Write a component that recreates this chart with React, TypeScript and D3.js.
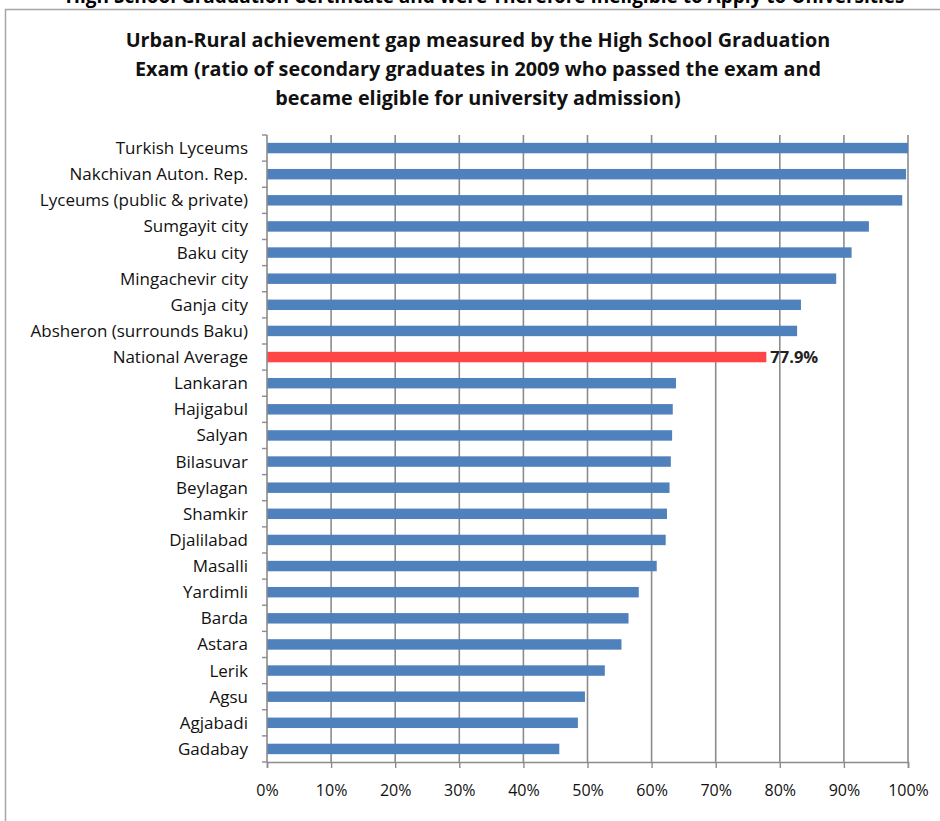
import { useEffect, useRef } from "react";
import * as d3 from "d3";

const regions: string[] = [
    'Turkish Lyceums', 'Nakchivan Auton. Rep.', 'Lyceums (public & private)', 'Sumgayit city',
    'Baku city', 'Mingachevir city', 'Ganja city', 'Absheron (surrounds Baku)', 'National Average',
    'Lankaran', 'Hajigabul', 'Salyan', 'Bilasuvar', 'Beylagan', 'Shamkir', 'Djalilabad',
    'Masalli', 'Yardimli', 'Barda', 'Astara', 'Lerik', 'Agsu', 'Agjabadi', 'Gadabay',
]

// share of graduates who passed (%)
const passRates: number[] = [
    100, 99.7, 99.1, 93.9, 91.2, 88.8, 83.3, 82.7, 77.9,
    63.8, 63.3, 63.2, 63.0, 62.8, 62.4, 62.2,
    60.8, 58.0, 56.4, 55.3, 52.7, 49.6, 48.5, 45.6,
]

const xTicks: number[] = [0, 10, 20, 30, 40, 50, 60, 70, 80, 90, 100]

const highlight = 'National Average'

const titleLines: string[] = [
    'Urban-Rural achievement gap measured by the High School Graduation',
    'Exam (ratio of secondary graduates in 2009 who passed the exam and',
    'became eligible for university admission)',
]
const cutHeading = 'High School Graduation Certificate and were Therefore Ineligible to Apply to Universities'

const FONT = '"Open Sans", Lato, sans-serif'

export default function App() {
    const width = 940;
    const height = 821;

    const margin = {
        top: 135,
        right: 32,
        bottom: 59,
        left: 267,
    }

    const svgRef = useRef<SVGSVGElement | null>(null);

    useEffect(() => {
        const svg = d3.select(svgRef.current)
            .attr('viewBox', [0, 0, width, height])
        svg.selectAll('*').remove()

        const xScale = d3.scaleLinear()
            .domain([0, 100])
            .range([margin.left, width - margin.right])
        const yScale = d3.scaleBand<string>()
            .domain(regions)
            .range([margin.top, height - margin.bottom])
            .paddingInner(0.6)
            .paddingOuter(0.3)

        const step = yScale.step()
        const yBottom = height - margin.bottom

        // frame
        svg.append('rect')
            .attr('x', 5.5)
            .attr('y', 9.5)
            .attr('width', 960)
            .attr('height', 900)
            .attr('fill', 'white')
            .attr('stroke', '#a6a6a6')
            .attr('stroke-width', 1.5)

        // heading of the page, cut off at the top
        svg.append('text')
            .attr('x', 485)
            .attr('y', 3)
            .attr('text-anchor', 'middle')
            .style('font-family', FONT)
            .style('font-weight', 'bold')
            .style('font-size', '19px')
            .text(cutHeading)

        titleLines.forEach((line, i) => {
            svg.append('text')
                .attr('x', 478)
                .attr('y', 47 + i * 29)
                .attr('text-anchor', 'middle')
                .style('font-family', FONT)
                .style('font-weight', 'bold')
                .style('font-size', '19.8px')
                .style('fill', '#111')
                .text(line)
        })

        // vertical gridlines
        svg.append('g')
            .selectAll('line')
            .data(xTicks.slice(1))
            .join('line')
            .attr('x1', d => xScale(d))
            .attr('x2', d => xScale(d))
            .attr('y1', margin.top)
            .attr('y2', yBottom)
            .attr('stroke', '#8c8c8c')
            .attr('stroke-width', 1.6)

        // bars
        svg.append('g')
            .selectAll('rect')
            .data(regions)
            .join('rect')
            .attr('x', xScale(0))
            .attr('y', d => yScale(d) as number)
            .attr('width', (d, i) => xScale(passRates[i]) - xScale(0))
            .attr('height', yScale.bandwidth())
            .attr('fill', d => d === highlight ? '#ff4646' : '#4f81bd')

        // label of highlighted bar
        const hi = regions.indexOf(highlight)
        svg.append('text')
            .attr('x', xScale(passRates[hi]) + 4)
            .attr('y', (yScale(highlight) as number) + yScale.bandwidth() / 2)
            .attr('dy', '0.36em')
            .style('font-family', FONT)
            .style('font-weight', 'bold')
            .style('font-size', '16.5px')
            .style('fill', '#222')
            .text(`${passRates[hi]}%`)

        // y axis (category ticks on boundaries)
        const yAxis = svg.append('g')
        yAxis.append('line')
            .attr('x1', xScale(0)).attr('x2', xScale(0))
            .attr('y1', margin.top).attr('y2', yBottom)
            .attr('stroke', '#8c8c8c').attr('stroke-width', 1.6)
        yAxis.selectAll('line.tick')
            .data(d3.range(regions.length + 1))
            .join('line')
            .attr('class', 'tick')
            .attr('x1', xScale(0) - 5).attr('x2', xScale(0))
            .attr('y1', d => margin.top + d * step)
            .attr('y2', d => margin.top + d * step)
            .attr('stroke', '#8c8c8c').attr('stroke-width', 1.4)
        yAxis.selectAll('text')
            .data(regions)
            .join('text')
            .attr('x', xScale(0) - 19)
            .attr('y', d => (yScale(d) as number) + yScale.bandwidth() / 2)
            .attr('dy', '0.35em')
            .attr('text-anchor', 'end')
            .style('font-family', FONT)
            .style('font-size', '17px')
            .style('fill', '#111')
            .text(d => d)

        // x axis
        const xAxis = svg.append('g')
            .attr('transform', `translate(0,${yBottom})`)
            .call(d3.axisBottom(xScale)
                .tickValues(xTicks)
                .tickSize(6)
                .tickPadding(17)
                .tickFormat(d => `${d}%`))
        xAxis.select('.domain').attr('stroke', '#8c8c8c').attr('stroke-width', 1.6)
        xAxis.selectAll('.tick line').attr('stroke', '#8c8c8c').attr('stroke-width', 1.4)
        xAxis.selectAll('.tick text')
            .style('font-family', FONT)
            .style('font-size', '16px')
            .style('fill', '#111')
    }, []);

    return (
        <svg ref={svgRef} width={width} height={height}
            style={{ position: 'absolute', left: 0, top: 0, background: 'white' }}>
        </svg>
    )
}
